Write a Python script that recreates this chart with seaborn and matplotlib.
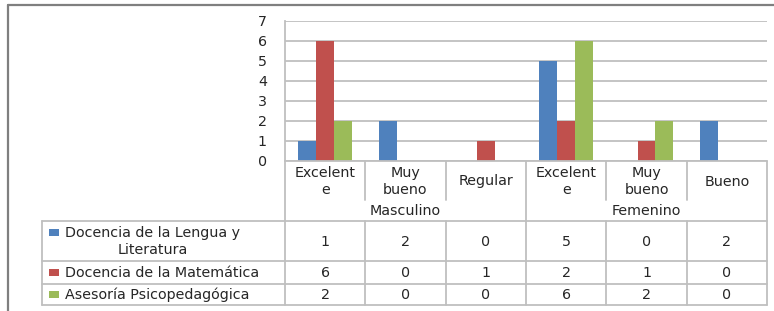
import pandas as pd
import matplotlib
matplotlib.use('Agg')
import matplotlib.pyplot as plt
from matplotlib.lines import Line2D
from matplotlib.patches import Rectangle
import seaborn as sns

# datos del grafico
grupos = ['Masculino', 'Masculino', 'Masculino', 'Femenino', 'Femenino', 'Femenino']
categorias = ['Excelent\ne', 'Muy\nbueno', 'Regular', 'Excelent\ne', 'Muy\nbueno', 'Bueno']
series = ['Docencia de la Lengua y\nLiteratura', 'Docencia de la Matemática', 'Asesoría Psicopedagógica']
lengua = [1, 2, 0, 5, 0, 2]
matematica = [6, 0, 1, 2, 1, 0]
asesoria = [2, 0, 0, 6, 2, 0]
colores = ['#4F81BD', '#C0504D', '#9BBB59']

valores = [lengua, matematica, asesoria]
claves = [f'{g}|{c}|{i}' for i, (g, c) in enumerate(zip(grupos, categorias))]
rows = []
for s, vals in zip(series, valores):
    for k, v in zip(claves, vals):
        rows.append({'cat': k, 'serie': s, 'valor': v})
df = pd.DataFrame(rows)

sns.set_style('white')
plt.rcParams['font.family'] = ['DejaVu Sans']
fs = 10.3
txt = '#262626'
gris = '#BFBFBF'

W, H = 774, 311
fig = plt.figure(figsize=(W / 100, H / 100), dpi=100)

# area del grafico en pixeles
x0, x1 = 285, 767
y0, y7 = 161, 20.7
ax = fig.add_axes([x0 / W, 1 - y0 / H, (x1 - x0) / W, (y0 - y7) / H])
sns.barplot(data=df, x='cat', y='valor', hue='serie', order=claves, hue_order=series,
            palette=colores, saturation=1, width=0.67, gap=0, linewidth=0,
            legend=False, ax=ax)
ax.set_xlim(-0.5, len(claves) - 0.5)
ax.set_ylim(0, 7)
ax.set_yticks(range(8))
ax.yaxis.grid(True, color=gris, linewidth=1.3)
ax.set_axisbelow(True)
ax.set_xticks([])
ax.set_xlabel('')
ax.set_ylabel('')
ax.tick_params(axis='y', length=0, pad=13, labelsize=fs, labelcolor=txt)
for sp in ['top', 'right', 'bottom']:
    ax.spines[sp].set_visible(False)
ax.spines['left'].set_color(gris)
ax.spines['left'].set_linewidth(1.3)

# tabla de datos dibujada debajo
tab = fig.add_axes([0, 0, 1, 1], facecolor='none')
tab.set_xlim(0, W)
tab.set_ylim(H, 0)
tab.axis('off')

n = len(categorias)
cw = (x1 - x0) / n
tx = 41.7
r_cat, r_grp, r1, r2, r3, r4 = 161, 200, 221, 261, 283.5, 305

def hline(y, xa, xb):
    tab.add_line(Line2D([xa, xb], [y, y], color=gris, lw=1.3))

def vline(x, ya, yb):
    tab.add_line(Line2D([x, x], [ya, yb], color=gris, lw=1.3))

hline(r_cat, x0, x1)
for y in [r1, r2, r3, r4]:
    hline(y, tx, x1)
vline(tx, r1, r4)
vline(x0, r_cat, r4)
for i in range(1, n + 1):
    xc = x0 + i * cw
    if i == n or grupos[i] != grupos[i - 1]:
        vline(xc, r_cat, r4)
    else:
        vline(xc, r_cat, r_grp)
        vline(xc, r1, r4)

for i, c in enumerate(categorias):
    tab.text(x0 + (i + 0.5) * cw, (r_cat + r_grp) / 2 + 1, c, ha='center', va='center',
             fontsize=fs, color=txt, linespacing=1.3)

# etiquetas de grupo
vistos = []
for g in grupos:
    if g not in vistos:
        vistos.append(g)
for g in vistos:
    idx = [i for i, gg in enumerate(grupos) if gg == g]
    xm = x0 + (idx[0] + idx[-1] + 1) / 2 * cw
    tab.text(xm, (r_grp + r1) / 2 + 0.5, g, ha='center', va='center', fontsize=fs, color=txt)

# filas de la tabla
limites = [(r1, r2), (r2, r3), (r3, r4)]
for (ya, yb), s, vals, col in zip(limites, series, valores, colores):
    ym = (ya + yb) / 2
    yl = ym - 9 if '\n' in s else ym
    tab.add_patch(Rectangle((49, yl - 3.5), 10, 7, color=col, lw=0))
    tab.text(65, ym + 0.5, s, ha='left', va='center', multialignment='center',
             fontsize=fs, color=txt, linespacing=1.3)
    for i, v in enumerate(vals):
        tab.text(x0 + (i + 0.5) * cw, ym + 0.5, str(v), ha='center', va='center',
                 fontsize=fs, color=txt)

# marco de la imagen
fig.add_artist(Line2D([7.5 / W, 1], [1 - 4.5 / H, 1 - 4.5 / H], color='#7F7F7F', lw=1.6))
fig.add_artist(Line2D([7.5 / W, 7.5 / W], [0, 1 - 4.5 / H], color='#7F7F7F', lw=1.6))

fig.savefig('out.png', dpi=100, facecolor='white')
